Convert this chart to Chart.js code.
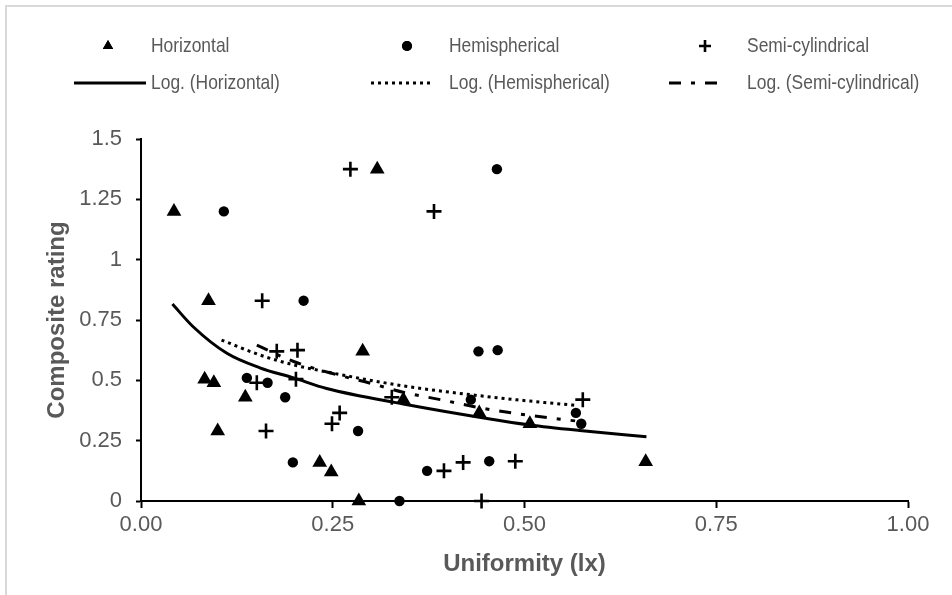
<!DOCTYPE html>
<html>
<head>
<meta charset="utf-8">
<script src="https://cdn.jsdelivr.net/npm/chart.js@4.4.1/dist/chart.umd.min.js"></script>
<style>
  html, body { margin: 0; padding: 0; background: #fff; }
  #wrap { position: relative; width: 952px; height: 595px; }
</style>
</head>
<body>
<div id="wrap"><canvas id="c" width="952" height="595"></canvas></div>
<script>
// ---- Data ----
const horizX = [0.043, 0.308, 0.088, 0.289, 0.083, 0.095, 0.136, 0.100, 0.233, 0.248, 0.284, 0.342, 0.441, 0.507, 0.658];
const horizY = [1.20, 1.375, 0.83, 0.62, 0.505, 0.49, 0.43, 0.29, 0.16, 0.12, 0.00, 0.42, 0.365, 0.32, 0.163];

const hemiX = [0.108, 0.464, 0.212, 0.440, 0.465, 0.138, 0.165, 0.188, 0.430, 0.567, 0.574, 0.283, 0.198, 0.373, 0.454, 0.337];
const hemiY = [1.20, 1.375, 0.83, 0.62, 0.625, 0.51, 0.49, 0.43, 0.42, 0.365, 0.32, 0.29, 0.16, 0.125, 0.165, 0.00];

const semiX = [0.273, 0.382, 0.158, 0.177, 0.204, 0.151, 0.202, 0.327, 0.576, 0.163, 0.249, 0.259, 0.395, 0.420, 0.488, 0.444];
const semiY = [1.375, 1.20, 0.83, 0.62, 0.625, 0.49, 0.505, 0.43, 0.42, 0.29, 0.32, 0.365, 0.125, 0.16, 0.165, 0.00];

// Logarithmic trend lines
const horizTrendX = [0.041, 0.068, 0.112, 0.155, 0.199, 0.242, 0.342, 0.451, 0.507, 0.572, 0.659];
const horizTrendY = [0.816, 0.722, 0.612, 0.552, 0.510, 0.466, 0.402, 0.342, 0.315, 0.292, 0.266];
const hemiTrendX = [0.105, 0.155, 0.199, 0.242, 0.342, 0.442, 0.507, 0.568];
const hemiTrendY = [0.667, 0.605, 0.564, 0.535, 0.477, 0.436, 0.414, 0.396];
const semiTrendX = [0.151, 0.199, 0.251, 0.299, 0.344, 0.392, 0.444, 0.494, 0.544, 0.566];
const semiTrendY = [0.646, 0.578, 0.527, 0.488, 0.449, 0.419, 0.385, 0.360, 0.340, 0.332];

const seriesNames = ['Horizontal', 'Hemispherical', 'Semi-cylindrical'];
const trendNames = ['Log. (Horizontal)', 'Log. (Hemispherical)', 'Log. (Semi-cylindrical)'];
const xTickLabels = ['0.00', '0.25', '0.50', '0.75', '1.00'];
const yTickLabels = ['0', '0.25', '0.5', '0.75', '1', '1.25', '1.5'];
const xTitle = 'Uniformity (lx)';
const yTitle = 'Composite rating';

// ---- helpers ----
const pts = (xs, ys) => xs.map((x, i) => ({ x: x, y: ys[i] }));
const FONT = "'Liberation Sans', Arial, sans-serif";
const GREY = '#595959';

const lineStyles = [
  { dash: [], width: 3 },
  { dash: [3, 4], width: 3 },
  { dash: [12, 10, 4, 10], width: 3 }
];

const datasets = [
  { label: seriesNames[0], data: pts(horizX, horizY), pointStyle: 'triangle', pointRadius: 8.5,
    backgroundColor: '#000', borderColor: '#000', borderWidth: 0, showLine: false, clip: false, order: 2 },
  { label: seriesNames[1], data: pts(hemiX, hemiY), pointStyle: 'circle', pointRadius: 5.2,
    backgroundColor: '#000', borderColor: '#000', borderWidth: 0, showLine: false, clip: false, order: 2 },
  { label: seriesNames[2], data: pts(semiX, semiY), pointStyle: 'cross', pointRadius: 7.5,
    backgroundColor: '#000', borderColor: '#000', borderWidth: 2.6, showLine: false, clip: false, order: 2 },
  { label: trendNames[0], data: pts(horizTrendX, horizTrendY), showLine: true, pointRadius: 0,
    borderColor: '#000', borderWidth: lineStyles[0].width, borderDash: lineStyles[0].dash,
    cubicInterpolationMode: 'monotone', fill: false, order: 1 },
  { label: trendNames[1], data: pts(hemiTrendX, hemiTrendY), showLine: true, pointRadius: 0,
    borderColor: '#000', borderWidth: lineStyles[1].width, borderDash: lineStyles[1].dash,
    cubicInterpolationMode: 'monotone', fill: false, order: 1 },
  { label: trendNames[2], data: pts(semiTrendX, semiTrendY), showLine: true, pointRadius: 0,
    borderColor: '#000', borderWidth: lineStyles[2].width, borderDash: lineStyles[2].dash,
    cubicInterpolationMode: 'monotone', fill: false, order: 1 }
];

// frame lines (light grey edges of the original figure)
const framePlugin = {
  id: 'frame',
  beforeDraw(chart) {
    const ctx = chart.ctx;
    ctx.save();
    ctx.strokeStyle = '#d9d9d9';
    ctx.lineWidth = 2;
    ctx.beginPath();
    ctx.moveTo(6, 595); ctx.lineTo(6, 6); ctx.lineTo(952, 6);
    ctx.stroke();
    ctx.restore();
  }
};

// custom legend: 3 columns, 2 rows (markers row, trend lines row)
const legendPlugin = {
  id: 'customLegend',
  afterDraw(chart) {
    const ctx = chart.ctx;
    const markerX = [108, 407, 705];
    const markerR = [6, 5, 6];
    const sampleStart = [74, 371, 669];
    const sampleEnd = [146, 430, 727];
    const textX = [151, 449, 747];
    const rowY = [46, 83];
    for (let i = 0; i < 3; i++) {
      const ds = chart.data.datasets[i];
      // marker sample
      ctx.save();
      ctx.fillStyle = '#000';
      ctx.strokeStyle = '#000';
      ctx.lineWidth = ds.borderWidth || 1;
      Chart.helpers.drawPoint(ctx, {
        pointStyle: ds.pointStyle,
        radius: markerR[i],
        borderWidth: ds.borderWidth || 0,
        rotation: 0
      }, markerX[i], rowY[0]);
      if (ds.pointStyle !== 'cross') ctx.fill();
      ctx.restore();
      // trend line sample
      ctx.save();
      ctx.strokeStyle = '#000';
      ctx.lineWidth = lineStyles[i].width;
      ctx.setLineDash(lineStyles[i].dash);
      ctx.beginPath();
      ctx.moveTo(sampleStart[i], rowY[1]);
      ctx.lineTo(sampleEnd[i], rowY[1]);
      ctx.stroke();
      ctx.restore();
      // texts (condensed)
      [seriesNames[i], trendNames[i]].forEach((t, r) => {
        ctx.save();
        ctx.font = "21px " + FONT;
        ctx.fillStyle = GREY;
        ctx.textBaseline = 'middle';
        ctx.textAlign = 'left';
        ctx.translate(textX[i], rowY[r]);
        ctx.scale(0.83, 1);
        ctx.fillText(t, 0, 0);
        ctx.restore();
      });
    }
  }
};

new Chart(document.getElementById('c'), {
  type: 'scatter',
  data: { datasets: datasets },
  plugins: [framePlugin, legendPlugin],
  options: {
    responsive: false,
    animation: false,
    devicePixelRatio: 1,
    layout: { padding: { left: 0, top: 139, right: 44, bottom: 0 } },
    plugins: { legend: { display: false }, tooltip: { enabled: false } },
    scales: {
      x: {
        type: 'linear', min: 0, max: 1,
        afterFit(s) { s.height = 94; },
        afterBuildTicks(s) { s.ticks = xTickLabels.map(v => ({ value: parseFloat(v) })); },
        ticks: {
          callback: (v) => xTickLabels.find(l => parseFloat(l) === v) ?? '',
          font: { family: FONT, size: 22 }, color: GREY, padding: 4, maxRotation: 0
        },
        grid: { display: true, drawOnChartArea: false, drawTicks: true, tickLength: 7, tickColor: '#000', tickWidth: 2 },
        border: { display: true, color: '#000', width: 2 },
        title: { display: true, text: xTitle, color: GREY, font: { family: FONT, size: 24, weight: 'bold' },
                 padding: { top: 0, bottom: 16 } }
      },
      y: {
        type: 'linear', min: 0, max: 1.5,
        afterFit(s) { s.width = 141; },
        afterBuildTicks(s) { s.ticks = yTickLabels.map(v => ({ value: parseFloat(v) })); },
        ticks: {
          callback: (v) => yTickLabels.find(l => parseFloat(l) === v) ?? '',
          font: { family: FONT, size: 22 }, color: GREY, padding: 14
        },
        grid: { display: true, drawOnChartArea: false, drawTicks: true, tickLength: 5, tickColor: '#000', tickWidth: 2 },
        border: { display: true, color: '#000', width: 2 },
        title: { display: true, text: yTitle, color: GREY, font: { family: FONT, size: 24, weight: 'bold' },
                 padding: { top: 43, bottom: 0 } }
      }
    }
  }
});
</script>
</body>
</html>
